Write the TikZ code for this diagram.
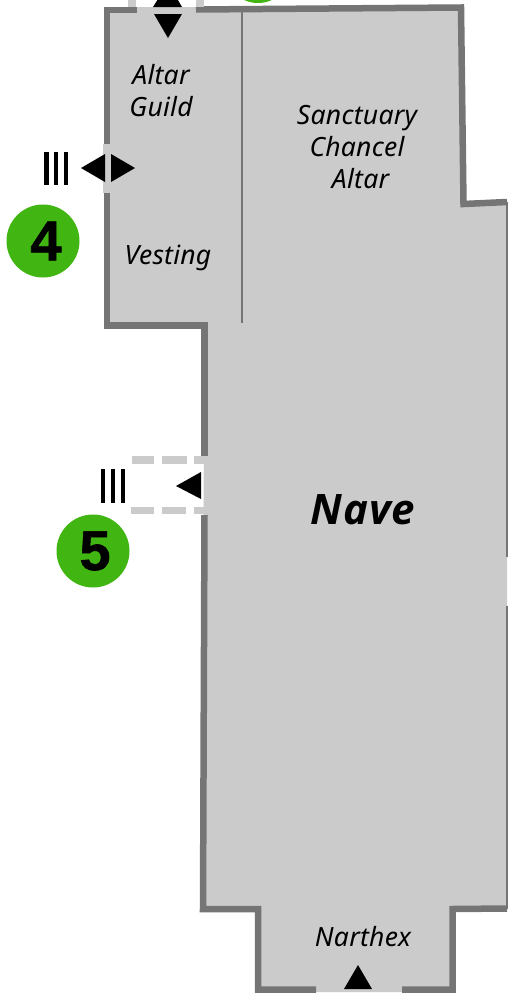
\documentclass[tikz,border=0pt]{standalone}
\usepackage{fontspec}
\setmainfont{Open Sans}
\newfontfamily\roomfont[LetterSpace=1]{Noto Sans}
\newfontfamily\navefont[LetterSpace=2]{Open Sans}
\newfontfamily\numfont[BoldFeatures={FakeBold=1}]{Liberation Sans}
\definecolor{floorgray}{HTML}{CBCBCB}
\definecolor{wallgray}{HTML}{757575}
\definecolor{badgegreen}{HTML}{41B511}
\begin{document}
\begin{tikzpicture}[x=1pt,y=-1pt,
  wall/.style={draw=wallgray,line width=6.5pt,line join=miter},
  door/.style={draw=floorgray,line width=8pt},
  dashbar/.style={draw=floorgray,line width=7.5pt},
  tally/.style={line width=4.5pt},
  room/.style={font=\roomfont\itshape\fontsize{26.5}{32}\selectfont,align=center,inner sep=0pt},
  badge/.style={circle,fill=badgegreen,minimum size=73pt,inner sep=0pt,font=\numfont\bfseries\fontsize{56}{56}\selectfont}]
\useasboundingbox (0,0) rectangle (507,994);

\fill[floorgray] (106,7) -- (461,7) -- (463,204) -- (507,202) -- (507,909) -- (453,909)
  -- (453,992) -- (258,992) -- (258,909) -- (203,909) -- (204,325) -- (106,325) -- cycle;

% walls
\draw[wall] (137,10) -- (107,10) -- (107,144);
\draw[wall] (107,193) -- (107,325.5) -- (204.5,325.5) -- (204.5,456);
\draw[wall] (204.5,515) -- (203,909) -- (258,909) -- (258,989.5) -- (316,989.5);
\draw[wall] (402,989.5) -- (452.5,989.5) -- (452.5,909) -- (507,908.5);
\draw[wall] (196,9.5) -- (461,7.5) -- (463.5,204) -- (507,202);
\draw[draw=wallgray,line width=2pt] (507,202) -- (507,557);
\draw[draw=wallgray,line width=2pt] (507,606) -- (507,909);
\draw[draw=wallgray,line width=2pt] (242,12) -- (242,323);

% doors
\draw[door] (132,0) -- (132,7);
\draw[door] (200,0) -- (200,7);
\draw[door] (107,144) -- (107,193);
\draw[dashbar] (132,460) -- (154,460);
\draw[dashbar] (162,460) -- (187,460);
\draw[dashbar] (194,460) -- (206,460);
\draw[dashbar] (131,510.5) -- (154,510.5);
\draw[dashbar] (162,510.5) -- (186,510.5);
\draw[dashbar] (194,510.5) -- (206,510.5);

% arrows
\fill (153,7) -- (182,7) -- (168,-17) -- cycle;
\fill (154,14) -- (182,14) -- (168,38) -- cycle;
\fill (105,154) -- (105,182) -- (81,168) -- cycle;
\fill (111,154) -- (111,182) -- (135,168) -- cycle;
\fill (201,472) -- (201,499) -- (176,486) -- cycle;
\fill (344,989) -- (372,989) -- (358,965) -- cycle;

% tally marks
\foreach \x in {46.5,56,66} \draw[tally] (\x,152) -- (\x,185);
\foreach \x in {103,113,123} \draw[tally] (\x,469) -- (\x,503);

\node[badge] (four) at (43,241) {\kern6pt\raisebox{-1pt}{4}};
\node[badge] (five) at (93,551) {\kern4pt 5};
\fill[badgegreen] (258,-30) circle (33pt);

\node[room] (altar) at (161,91) {Altar\\Guild};
\node[room] (sanctuary) at (357,147) {Sanctuary\\Chancel\\\ Altar};
\node[room] (vesting) at (168,258) {Vesting};
\node[room,font=\navefont\bfseries\itshape\fontsize{42}{46}\selectfont] (nave) at (363,510) {Nave};
\node[room] (narthex) at (363,937) {Narthex};
\end{tikzpicture}
\end{document}
